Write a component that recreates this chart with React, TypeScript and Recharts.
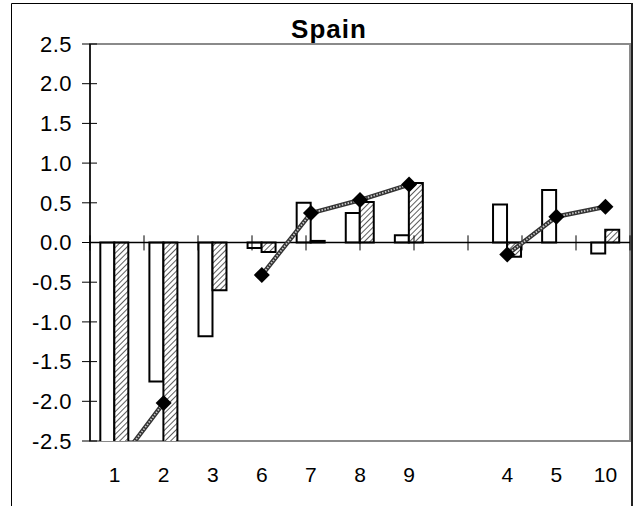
import React from "react";
import {
  ComposedChart,
  Bar,
  Line,
  XAxis,
  YAxis,
  ReferenceLine,
} from "recharts";

// categories in chart order (blank slot between 9 and 4)
const categories = ["1", "2", "3", "6", "7", "8", "9", "", "4", "5", "10"];
// open bars
const seriesA = [-3.0, -1.75, -1.18, -0.07, 0.5, 0.37, 0.09, null, 0.48, 0.66, -0.14];
// hatched bars
const seriesB = [-3.2, -2.8, -0.6, -0.12, 0.02, 0.51, 0.75, null, -0.18, null, 0.16];
// line with diamonds
const seriesC = [-2.84, -2.02, null, -0.41, 0.37, 0.535, 0.73, null, -0.15, 0.325, 0.45];

const yTicks = [-2.5, -2.0, -1.5, -1.0, -0.5, 0.0, 0.5, 1.0, 1.5, 2.0, 2.5];
// category boundaries, used for the cross tick marks on the zero axis
const boundaries = [0, 1, 2, 3, 4, 5, 6, 7, 8, 9, 10, 11];

const data = categories.map((c, i) => ({
  name: c,
  a: seriesA[i],
  b: seriesB[i],
  c: seriesC[i],
}));

const FONT = "'Liberation Sans', Arial, sans-serif";
const W = 635;
const H = 506;
const MARGIN = { top: 44, right: 5, bottom: 25, left: 10 };
const Y_AXIS_W = 80;
const X_AXIS_H = 40;
// plot box, derived from the chart margins
const PLOT = {
  x: MARGIN.left + Y_AXIS_W,
  y: MARGIN.top,
  w: W - MARGIN.left - Y_AXIS_W - MARGIN.right,
  h: H - MARGIN.top - MARGIN.bottom - X_AXIS_H,
};

const YTick = (props: any) => {
  const { x, y, payload } = props;
  return (
    <g>
      <line x1={x + 10} x2={x + 25} y1={y} y2={y} stroke="#000" strokeWidth={1} />
      <text x={x} y={y} dy="0.35em" textAnchor="end" fontSize={22} letterSpacing={0.5} fill="#000">
        {Number(payload.value).toFixed(1)}
      </text>
    </g>
  );
};

const Diamond = (props: any) => {
  const { cx, cy, index } = props;
  if (cx == null || cy == null || props.value == null) return <g key={`d-${index}`} />;
  const r = 8;
  return (
    <path
      key={`d-${index}`}
      d={`M${cx},${cy - r}L${cx + r},${cy}L${cx},${cy + r}L${cx - r},${cy}Z`}
      fill="#000"
    />
  );
};

export default function App() {
  return (
    <div style={{ position: "absolute", left: 0, top: 0, width: W, height: H, fontFamily: FONT, background: "#fff" }}>
      {/* chart frame, plot box and title behind the chart */}
      <svg width={W} height={H} style={{ position: "absolute", left: 0, top: 0 }}>
        <line x1={11.5} y1={3.5} x2={633} y2={3.5} stroke="#000" strokeWidth={1} />
        <line x1={11.5} y1={3.5} x2={11.5} y2={H} stroke="#000" strokeWidth={1} />
        <line x1={632} y1={3} x2={632} y2={H} stroke="#222" strokeWidth={2} />
        <rect x={PLOT.x} y={PLOT.y} width={PLOT.w} height={PLOT.h} fill="none" stroke="#8a8a8a" strokeWidth={2} />
        <text x={329} y={38} textAnchor="middle" fontSize={26} fontWeight="bold" letterSpacing={1} fill="#000">
          Spain
        </text>
      </svg>
      <div style={{ position: "absolute", left: 0, top: 0 }}>
        <ComposedChart
          width={W}
          height={H}
          data={data}
          margin={MARGIN}
          barCategoryGap="21%"
          barGap={0}
        >
          <defs>
            <pattern id="hatch" patternUnits="userSpaceOnUse" width={4} height={4} patternTransform="rotate(45)">
              <rect width={4} height={4} fill="#fff" />
              <line x1={0} y1={0} x2={0} y2={4} stroke="#333" strokeWidth={1.6} />
            </pattern>
          </defs>
          <XAxis
            dataKey="name"
            axisLine={false}
            tickLine={false}
            tickSize={0}
            tickMargin={26}
            height={X_AXIS_H}
            interval={0}
            tick={{ fill: "#000", fontSize: 21 }}
          />
          <XAxis xAxisId="num" type="number" domain={[0, 11]} hide />
          <YAxis
            domain={[-2.5, 2.5]}
            ticks={yTicks}
            allowDataOverflow
            width={Y_AXIS_W}
            tickSize={8}
            tickMargin={10}
            tickLine={false}
            axisLine={{ stroke: "#000", strokeWidth: 1.5 }}
            tick={<YTick />}
          />
          <Bar dataKey="a" fill="#fff" stroke="#000" strokeWidth={2} isAnimationActive={false} />
          <Bar dataKey="b" fill="url(#hatch)" stroke="#000" strokeWidth={2} isAnimationActive={false} />
          <ReferenceLine y={0} stroke="#000" strokeWidth={1.5} />
          {boundaries.map((b) => (
            <ReferenceLine
              key={`t-${b}`}
              xAxisId="num"
              segment={[
                { x: b, y: -0.1 },
                { x: b, y: 0.09 },
              ]}
              stroke="#000"
              strokeWidth={1}
            />
          ))}
          <Line
            dataKey="c"
            stroke="#333"
            strokeWidth={4.5}
            dot={false}
            activeDot={false}
            connectNulls={false}
            isAnimationActive={false}
          />
          <Line
            dataKey="c"
            stroke="#c8c8c8"
            strokeWidth={1.8}
            strokeDasharray="1.5 1.5"
            dot={<Diamond />}
            activeDot={false}
            connectNulls={false}
            isAnimationActive={false}
          />
        </ComposedChart>
      </div>
    </div>
  );
}
